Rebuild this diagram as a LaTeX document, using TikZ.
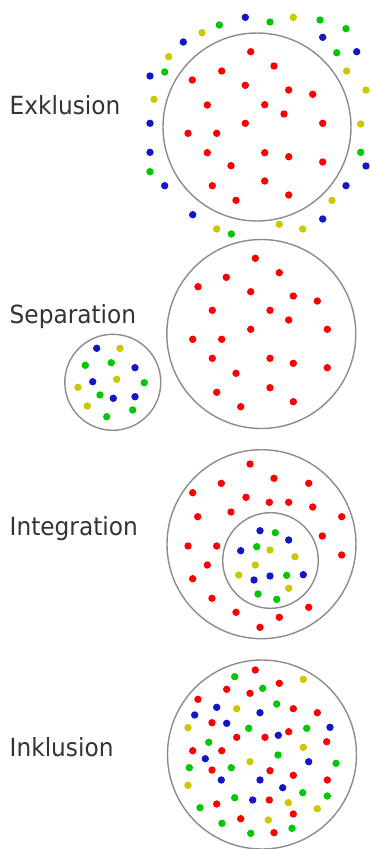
\documentclass[tikz,border=0pt]{standalone}
\usepackage{fontspec}
\setmainfont{DejaVu Sans}[FakeStretch=0.93]
\definecolor{dR}{HTML}{FF0000}
\definecolor{dG}{HTML}{00C800}
\definecolor{dB}{HTML}{1414C8}
\definecolor{dY}{HTML}{CCC800}
\definecolor{ring}{HTML}{8C8C8C}
\definecolor{lbl}{HTML}{333333}
\tikzset{
  ringline/.style={draw=ring, line width=1.4pt},
  lab/.style={anchor=base west, inner sep=0pt, text=lbl, font=\fontsize{25}{25}\selectfont}
}
\newcommand{\mydots}[2]{\foreach \x/\y in {#2} \fill[#1] (\x,\y) circle (3.7);}
\begin{document}
\begin{tikzpicture}[x=1pt,y=-1pt]
\useasboundingbox[fill=white] (0,0) rectangle (371,849);
% ---------- Exklusion ----------
\node[lab] (lexk) at (9.5,114.5) {Exklusion};
\draw[ringline] (257,127) circle (94);
\mydots{dR}{250.7/51.7,274/66,221.7/71,192.3/80,245.3/85.3,288.7/90,312.7/94.3,207.3/105,264.7/104.7,284/114,245.3/123.3,322.7/123.3,188/133.3,216.7/133.3,207.3/152.7,264.7/152.7,288.7/156.7,322.7/162,231/165.7,264.7/181,212.3/185.7,288.7/195,236/200.3}
\mydots{dB}{245.3/17.3,322.7/37.3,356.7/51.7,366/166,346/185.7,322.7/219,192.7/214.7,164.7/185.7,150/152.3,150/123.3,150/76,183.3/42}
\mydots{dG}{270/22,320/20,346/28.7,336.7/52.7,360.7/152.3,231.3/234,150/171.7,164.7/72,219.3/25}
\mydots{dY}{293.3/17.3,346.7/71,366/90,360.7/124,332/200.3,302.7/229,279.3/224.3,216.7/229,154/99.3,168.7/56.7,202/32.7}
% ---------- Separation ----------
\node[lab] (lsep) at (9.5,323.5) {Separation};
\draw[ringline] (261.3,334) circle (94.5);
\draw[ringline] (112.8,382.3) circle (48);
\mydots{dR}{255.3/258.3,279.3/272.7,226.3/277.3,198/286.7,250.7/291.7,293.3/296,317.3/301,212.3/310.3,270/310.3,288.7/320,327.3/329.3,250.7/329.3,192.7/339.3,221.7/339.3,212.3/358.3,270/358.3,293.3/363.3,327.3/367.7,236/373.3,270/387.7,216.7/392.3,293.3/401.7,240.7/406.7}
\mydots{dB}{96.7/348.3,135/367.7,92.7/381.7,113.3/398.3,135/396.7}
\mydots{dG}{85.3/365.3,111.3/362.7,144.3/382.7,100/395,132.7/410,106.7/416.7}
\mydots{dY}{120/348.3,78/387.3,116.7/379.3,87.3/406}
% ---------- Integration ----------
\node[lab] (lint) at (9.5,535.5) {Integration};
\draw[ringline] (261.5,544.2) circle (94.5);
\draw[ringline] (270.5,560.5) circle (47.8);
\mydots{dR}{250/464,274/478.3,221.3/483.3,308.7/483.3,192.7/492.7,246/497.3,269.3/502.3,288.7/502.3,312.7/507,231/512,197.7/516.7,341.7/516.7,322.3/536,188/546,216.7/546,341.7/555,207.3/565,192.7/578.7,212/598.3,308.7/607.3,236/612.3,279.3/617.3,260/627.3}
\mydots{dB}{260/530.7,288.7/540,240.7/550.7,254/580,270/576,303.3/574.7}
\mydots{dG}{275.3/532.7,256.7/546.7,286.7/575.3,258/594,276.7/599.3}
\mydots{dY}{270/550,295/556.7,255.3/565,238.7/575,288.7/588.3}
% ---------- Inklusion ----------
\node[lab] (link) at (9.5,756) {Inklusion};
\draw[ringline] (262,754.5) circle (94.5);
\mydots{dR}{255.3/670,279.3/683.3,226.7/689.3,250/693.3,198/699.3,293.3/708.7,317.3/712.7,212/722.7,288.7/731.7,265/737.3,236.7/737.3,326.7/741.7,192.7/750.7,221.7/750.7,212/770,270/770.7,293.3/775.3,327.3/780,269.3/800,216.7/804,293.3/814,240.7/818.7,274/832.7}
\mydots{dB}{216.7/707.3,260/712.7,194.7/715,226.7/723.3,330/727.3,278.3/735.3,205.3/758.7,308.7/761.7,221.3/780,260/780,282.7/787.7,252.7/800}
\mydots{dG}{234.7/676.7,262.7/688.3,276.7/704,248.7/728.3,306.7/728.3,208.7/742.3,278/755,336/763.3,189.3/767.7,231.3/767.7,302.7/792.7,327.3/796,234.7/797.7,200/807.7,222/823.3,292/828.3,250.7/833.3}
\mydots{dY}{303.3/679.3,236.7/708.7,188/727.7,303.3/747.3,250/761.7,188/785.3,288.3/802.7,317.3/808.7,268.3/820}
\end{tikzpicture}
\end{document}
